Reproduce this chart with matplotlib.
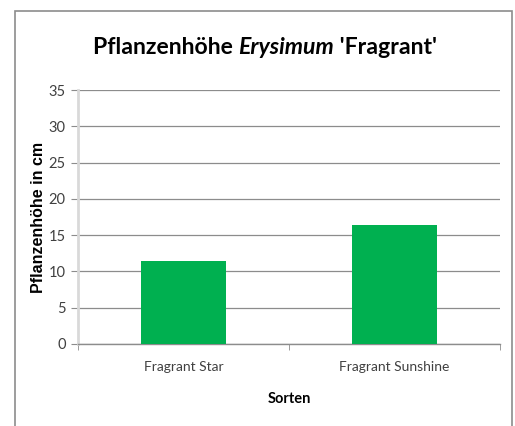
import matplotlib
matplotlib.use('Agg')
import matplotlib.pyplot as plt
from matplotlib.patches import Rectangle

sorten = ['Fragrant Star', 'Fragrant Sunshine']
hoehe = [11.5, 16.35]
y_ticks = [0, 5, 10, 15, 20, 25, 30, 35]

narrow = dict(family=['Lato', 'DejaVu Sans'])
grid_col = '#8c8c8c'

fig = plt.figure(figsize=(5.15, 4.26), dpi=100)
ax = fig.add_axes([0.1515, 0.1925, 0.8194, 0.5962])

x = list(range(len(sorten)))
ax.bar(x, hoehe, width=0.4, color='#00B050', zorder=3)

ax.set_xlim(-0.5, 1.5)
ax.set_ylim(0, 35)
ax.set_yticks(y_ticks)
ax.set_yticklabels([str(v) for v in y_ticks], fontsize=10.5, color='#404040', **narrow)
ax.set_xticks(x)
ax.set_xticklabels(sorten, fontsize=10, color='#404040', **narrow)
ax.set_xticks([-0.5, 0.5, 1.5], minor=True)
ax.tick_params(axis='x', which='major', length=0, pad=12)
ax.tick_params(axis='x', which='minor', length=4, color=grid_col, direction='out')
ax.tick_params(axis='y', length=5, color=grid_col, direction='out', pad=4)

ax.grid(axis='y', color=grid_col, linewidth=0.9, zorder=0)
for s in ['top', 'right']:
    ax.spines[s].set_visible(False)
ax.spines['left'].set_color('#d9d9d9')
ax.spines['left'].set_linewidth(2)
ax.spines['bottom'].set_color(grid_col)
ax.spines['bottom'].set_linewidth(1)

ax.set_ylabel('Pflanzenhöhe in cm', family=['Liberation Sans', 'DejaVu Sans'],
              fontweight='bold', fontsize=11.5)
ax.yaxis.set_label_coords(-0.075, 0.5)
ax.set_xlabel('Sorten', fontweight='bold', fontsize=10.5, **narrow)
ax.xaxis.set_label_coords(0.5, -0.19)

# frame around the chart
fig.patches.append(Rectangle((15 / 515, -0.05), 497 / 515, 1 - 11 / 426 + 0.05,
                             transform=fig.transFigure, fill=False,
                             edgecolor='#8c8c8c', linewidth=1.2))

# title with italic genus name, scaled to the reference width
parts = [('Pflanzenhöhe ', 'normal'), ('Erysimum', 'italic'), (" 'Fragrant'", 'normal')]
renderer = fig.canvas.get_renderer()
texts = []
for s, st in parts:
    t = fig.text(0, 1 - 47 / 426, s, fontsize=21, fontweight='bold',
                 style=st, va='center', ha='left', **narrow)
    texts.append(t)
total = sum(t.get_window_extent(renderer).width for t in texts)
for t in texts:
    t.set_fontsize(21 * 344 / total)
widths = [t.get_window_extent(renderer).width for t in texts]
xpos = 265 - sum(widths) / 2
for t, w in zip(texts, widths):
    t.set_x(xpos / 515)
    xpos += w

fig.savefig('out.png', dpi=100)
